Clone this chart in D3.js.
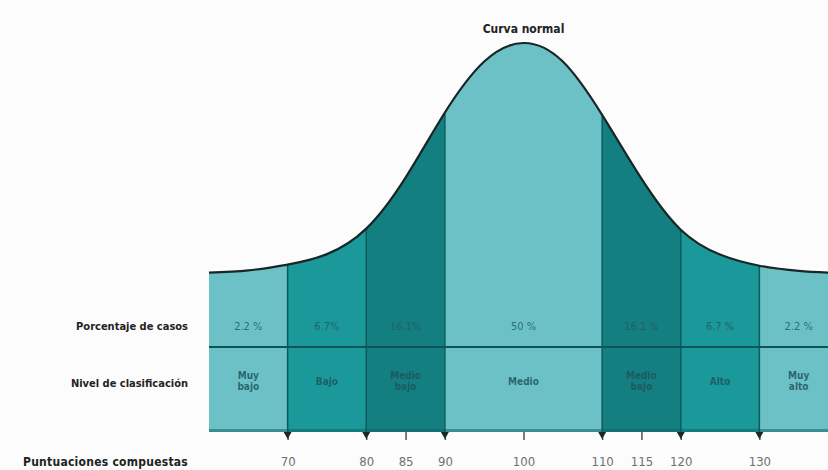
<!DOCTYPE html>
<html>
<head>
<meta charset="utf-8">
<script src="https://cdn.jsdelivr.net/npm/d3@7/dist/d3.min.js"></script>
<style>
  html, body { margin: 0; padding: 0; background: #fcfcfc; }
  svg { display: block; }
</style>
</head>
<body>
<svg id="chart" width="828" height="470"></svg>
<script>
// Normal curve outline: composite score vs. relative height (peak = 1)
const curveScores  = [60, 65, 70, 75, 80, 85, 90, 95, 100, 105, 110, 115, 120, 125, 130, 135, 140];
const curveHeights = [0.01, 0.02, 0.045, 0.09, 0.20, 0.42, 0.70, 0.92, 1.0, 0.92, 0.69, 0.415, 0.195, 0.088, 0.04, 0.018, 0.008];

// Classification bands
const bandStarts   = [60, 70, 80, 90, 110, 120, 130];
const bandEnds     = [70, 80, 90, 110, 120, 130, 140];
const bandPercents = ["2.2 %", "6.7%", "16.1%", "50 %", "16.1 %", "6.7 %", "2.2 %"];
const bandLevels   = [["Muy", "bajo"], ["Bajo"], ["Medio", "bajo"], ["Medio"], ["Medio", "bajo"], ["Alto"], ["Muy", "alto"]];
const bandShades   = ["light", "mid", "dark", "light", "dark", "mid", "light"];

// Composite score ticks
const tickScores  = [70, 80, 85, 90, 100, 110, 115, 120, 130];
const arrowScores = [70, 80, 90, 110, 120, 130];

const rowLabels = ["Porcentaje de casos", "Nivel de clasificación", "Puntuaciones compuestas"];
const title = "Curva normal";

const shadeColor = { light: "#6cc1c6", mid: "#1b9899", dark: "#147f80" };

const svg = d3.select("#chart");

const x = d3.scaleLinear().domain([60, 140]).range([209, 838]);
const y = d3.scaleLinear().domain([0, 1]).range([275, 43]);

const tableBottom = 432;
const rowDivider = 347;
const condensed = "'DejaVu Sans Condensed', 'Liberation Sans Narrow', sans-serif";
const narrow = "'Liberation Sans Narrow', 'DejaVu Sans Condensed', sans-serif";

const pts = curveScores.map((s, i) => [s, curveHeights[i]]);

const area = d3.area()
  .x(d => x(d[0]))
  .y0(tableBottom)
  .y1(d => y(d[1]))
  .curve(d3.curveNatural);

const line = d3.line()
  .x(d => x(d[0]))
  .y(d => y(d[1]))
  .curve(d3.curveNatural);

// clip everything to the area under the curve
svg.append("defs").append("clipPath").attr("id", "under")
  .append("path").attr("d", area(pts));

const bands = bandStarts.map((s, i) => ({
  start: s, end: bandEnds[i], pct: bandPercents[i], level: bandLevels[i], shade: bandShades[i]
}));

const g = svg.append("g").attr("clip-path", "url(#under)");

g.selectAll("rect.band").data(bands).join("rect")
  .attr("class", "band")
  .attr("x", d => x(d.start))
  .attr("width", d => x(d.end) - x(d.start))
  .attr("y", y(1) - 5)
  .attr("height", d => tableBottom - y(1) + 5)
  .attr("fill", d => shadeColor[d.shade]);

// darker strip along the table bottom
g.append("rect")
  .attr("x", x(60)).attr("width", x(140) - x(60))
  .attr("y", tableBottom - 3).attr("height", 3)
  .attr("fill", "#0f6466").attr("opacity", 0.55);

// vertical separators between bands
g.selectAll("line.sep").data(bandStarts.slice(1)).join("line")
  .attr("class", "sep")
  .attr("x1", d => x(d)).attr("x2", d => x(d))
  .attr("y1", y(1) - 5).attr("y2", tableBottom)
  .attr("stroke", "#0d5a5c").attr("stroke-width", 1.5);

// row divider
g.append("line")
  .attr("x1", x(60)).attr("x2", x(140))
  .attr("y1", rowDivider).attr("y2", rowDivider)
  .attr("stroke", "#0e5558").attr("stroke-width", 1.8);

// curve outline
svg.append("path")
  .attr("d", line(pts))
  .attr("fill", "none")
  .attr("stroke", "#182626")
  .attr("stroke-width", 2.2);

// percentages
svg.selectAll("text.pct").data(bands).join("text")
  .attr("class", "pct")
  .attr("x", d => x((d.start + d.end) / 2))
  .attr("y", 330)
  .attr("text-anchor", "middle")
  .attr("font-family", narrow)
  .attr("font-size", 11)
  .attr("fill", "#215c64")
  .attr("fill-opacity", 0.85)
  .text(d => d.pct);

// classification levels
const lv = svg.selectAll("text.lvl").data(bands).join("text")
  .attr("class", "lvl")
  .attr("x", d => x((d.start + d.end) / 2))
  .attr("y", d => d.level.length === 1 ? 385 : 379)
  .attr("text-anchor", "middle")
  .attr("font-family", narrow)
  .attr("font-size", 10)
  .attr("font-weight", "bold")
  .attr("fill", "#1d555c")
  .attr("fill-opacity", 0.85);
lv.each(function(d) {
  d3.select(this).selectAll("tspan").data(d.level).join("tspan")
    .attr("x", x((d.start + d.end) / 2))
    .attr("dy", (t, i) => i === 0 ? 0 : 11)
    .text(t => t);
});

// score axis
const axis = d3.axisBottom(x)
  .tickValues(tickScores)
  .tickSize(8)
  .tickPadding(17)
  .tickFormat(d3.format("d"));

const ax = svg.append("g")
  .attr("transform", `translate(0,${tableBottom})`)
  .call(axis);
ax.select(".domain").remove();
ax.selectAll(".tick line").attr("stroke", "#3a4a4c").attr("stroke-width", 1.4);
ax.selectAll(".tick text")
  .attr("font-family", narrow)
  .attr("font-size", 13)
  .attr("fill", "#707070");

// arrowheads at band boundaries
svg.selectAll("path.arrow").data(arrowScores).join("path")
  .attr("class", "arrow")
  .attr("d", d => {
    const cx = x(d);
    return `M${cx - 4},${tableBottom} L${cx + 4},${tableBottom} L${cx},${tableBottom + 7} Z`;
  })
  .attr("fill", "#1a2828");

// row labels
const rowY = [330, 387, 466];
const rowSize = [11, 11, 12];
svg.selectAll("text.row").data(rowLabels).join("text")
  .attr("class", "row")
  .attr("x", 188)
  .attr("y", (d, i) => rowY[i])
  .attr("text-anchor", "end")
  .attr("font-family", condensed)
  .attr("font-weight", "bold")
  .attr("font-size", (d, i) => rowSize[i])
  .attr("letter-spacing", (d, i) => i === 2 ? 0.25 : 0)
  .attr("fill", "#222")
  .text(d => d);

// title
svg.append("text")
  .attr("x", x(100))
  .attr("y", 33)
  .attr("text-anchor", "middle")
  .attr("font-family", condensed)
  .attr("font-weight", "bold")
  .attr("font-size", 12)
  .attr("fill", "#222")
  .text(title);
</script>
</body>
</html>
